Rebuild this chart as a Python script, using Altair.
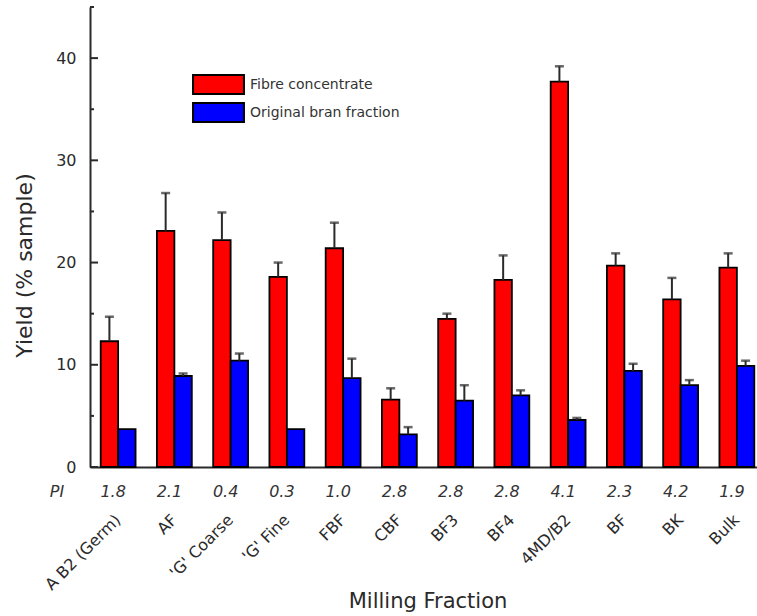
import altair as alt
import pandas as pd

# Milling fractions and their PI values
fractions = ["A B2 (Germ)", "AF", "'G' Coarse", "'G' Fine", "FBF", "CBF",
             "BF3", "BF4", "4MD/B2", "BF", "BK", "Bulk"]
pi_values = ["1.8", "2.1", "0.4", "0.3", "1.0", "2.8",
             "2.8", "2.8", "4.1", "2.3", "4.2", "1.9"]

# Yield (% sample) with upper error
fibre_yield = [12.3, 23.1, 22.2, 18.6, 21.4, 6.6, 14.5, 18.3, 37.7, 19.7, 16.4, 19.5]
fibre_err = [2.4, 3.7, 2.7, 1.4, 2.5, 1.1, 0.5, 2.4, 1.5, 1.2, 2.1, 1.4]
bran_yield = [3.7, 8.9, 10.4, 3.7, 8.7, 3.2, 6.5, 7.0, 4.6, 9.4, 8.0, 9.9]
bran_err = [0.0, 0.25, 0.7, 0.0, 1.9, 0.7, 1.5, 0.5, 0.2, 0.7, 0.5, 0.5]

series = ["Fibre concentrate", "Original bran fraction"]
colors = ["#ff0000", "#0000ff"]

major_ticks = [0, 10, 20, 30, 40]
minor_ticks = [5, 15, 25, 35, 45]

FONT = "DejaVu Sans"
INK = "#2a2a2a"

rows = []
for name, values, errs in [(series[0], fibre_yield, fibre_err),
                           (series[1], bran_yield, bran_err)]:
    for frac, v, e in zip(fractions, values, errs):
        rows.append({"fraction": frac, "series": name, "value": v,
                     "err": e, "upper": v + e})
df = pd.DataFrame(rows)
pi_df = pd.DataFrame({"fraction": fractions, "pi": pi_values})
tick_df = pd.DataFrame({"t": major_ticks})
minor_df = pd.DataFrame({"t": minor_ticks})
pi_label_df = pd.DataFrame({"label": ["PI"]})

x_scale = alt.Scale(range=[0, 675], paddingInner=0.38, paddingOuter=0.19)
y_scale = alt.Scale(domain=[0, 45], nice=False)

x_enc = alt.X(
    "fraction:N", sort=fractions, scale=x_scale,
    axis=alt.Axis(
        title="Milling Fraction", labelAngle=-45, labelAlign="right",
        labelBaseline="middle", labelPadding=50, ticks=False, tickSize=0,
        domainColor=INK, domainWidth=2, labelFontSize=16, labelColor=INK,
        titleFontSize=21, titleFontWeight="normal", titleColor=INK,
        titleY=140, titleBaseline="alphabetic",
    ),
)
y_enc = alt.Y(
    "value:Q", scale=y_scale,
    axis=alt.Axis(
        title="Yield (% sample)", values=major_ticks, ticks=False, tickSize=0,
        labelPadding=14, labelFontSize=16, labelColor=INK,
        domainColor=INK, domainWidth=2, grid=False,
        titleFontSize=22, titleFontWeight="normal", titleColor=INK,
        titleX=-66, titleY=258, titleBaseline="middle",
    ),
)
x_off = alt.XOffset("series:N", sort=series, scale=alt.Scale(paddingInner=0, paddingOuter=0))

legend_symbol = "M-2.68,-1H2.68V1H-2.68Z"

bars = alt.Chart(df).mark_bar(stroke="black", strokeWidth=1.8).encode(
    x=x_enc,
    xOffset=x_off,
    y=y_enc,
    fill=alt.Fill(
        "series:N", sort=series,
        scale=alt.Scale(domain=series, range=colors),
        legend=alt.Legend(
            orient="none", legendX=118, legendY=67, title=None,
            symbolType=legend_symbol, symbolSize=361,
            symbolStrokeColor="black", symbolStrokeWidth=2, symbolOpacity=1,
            labelFontSize=14, labelColor="#333", labelOffset=21,
            rowPadding=1, padding=0,
        ),
    ),
)

err_base = alt.Chart(df).transform_filter("datum.err > 0")
err_lines = err_base.mark_rule(color=INK, strokeWidth=2).encode(
    x=alt.X("fraction:N", sort=fractions),
    xOffset=x_off,
    y=alt.Y("value:Q"),
    y2="upper:Q",
)
err_caps = err_base.mark_tick(color=INK, thickness=2.5, size=9).encode(
    x=alt.X("fraction:N", sort=fractions),
    xOffset=x_off,
    y=alt.Y("upper:Q"),
)

major = alt.Chart(tick_df).mark_rule(color=INK, strokeWidth=2).encode(
    y=alt.Y("t:Q"), x=alt.value(0), x2=alt.value(8)
)
minor = alt.Chart(minor_df).mark_rule(color=INK, strokeWidth=2).encode(
    y=alt.Y("t:Q"), x=alt.value(0), x2=alt.value(4)
)

pi_text = alt.Chart(pi_df).mark_text(
    font=FONT, fontSize=16, fontStyle="italic", color="#333",
    baseline="middle", dx=-5,
).encode(
    x=alt.X("fraction:N", sort=fractions),
    y=alt.value(485),
    text="pi:N",
)
pi_label = alt.Chart(pi_label_df).mark_text(
    font=FONT, fontSize=16, fontStyle="italic", color="#333", baseline="middle",
).encode(x=alt.value(-33), y=alt.value(485), text="label:N")

chart = alt.layer(
    bars, err_lines, err_caps, major, minor, pi_text, pi_label
).properties(
    width=667, height=460,
    autosize=alt.AutoSizeParams(type="none"),
    padding={"left": 90, "top": 7, "right": 0, "bottom": 149},
).configure(
    font=FONT,
).configure_view(
    stroke=None,
).configure_axis(
    labelFont=FONT, titleFont=FONT,
).configure_legend(
    labelFont=FONT,
)

chart.save("out.html", embed_options={"renderer": "svg", "actions": False})
